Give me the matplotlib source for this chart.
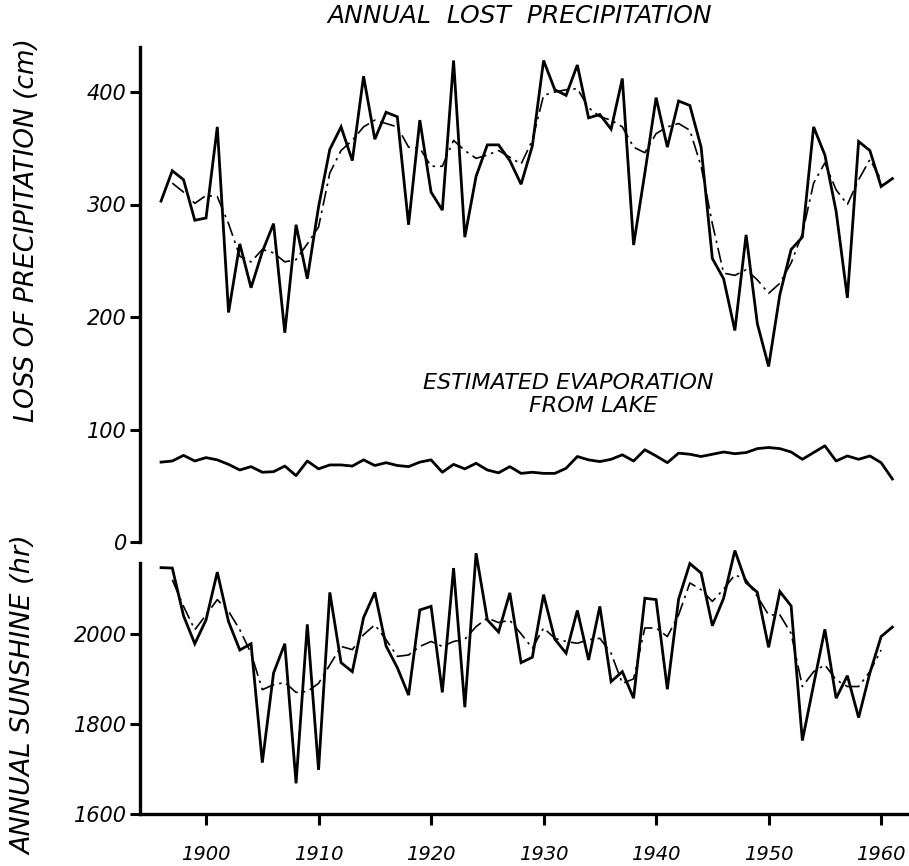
import numpy as np
import matplotlib
matplotlib.use('Agg')
import matplotlib.pyplot as plt

# data
years = np.arange(1896, 1962)
smooth_years = np.arange(1897, 1961)

lost = [303, 330, 322, 286,                                      # 1896-1899
        288, 369, 204, 265, 226, 258, 283, 186, 282, 234,        # 1900s
        298, 349, 369, 339, 414, 358, 382, 378, 282, 375,        # 1910s
        311, 295, 428, 271, 325, 353, 353, 339, 318, 352,        # 1920s
        428, 402, 397, 424, 377, 380, 367, 412, 264, 328,        # 1930s
        395, 351, 392, 388, 351, 252, 234, 188, 273, 194,        # 1940s
        156, 220, 260, 271, 369, 344, 294, 217, 356, 348,        # 1950s
        316, 323]                                                # 1960-1961

lost_smooth = [319, 311, 301,
               308, 307, 283, 254, 249, 260, 257, 249, 251, 265,
               280, 328, 348, 357, 369, 375, 372, 369, 351, 350,
               334, 334, 357, 348, 341, 344, 348, 342, 336, 357,
               397, 400, 402, 403, 386, 378, 375, 369, 351, 346,
               363, 369, 372, 366, 334, 283, 239, 237, 242, 233,
               221, 230, 248, 274, 319, 337, 313, 300, 322, 340,
               322]

evap = [71, 72, 77, 72,
        75, 73, 69, 64, 67, 62, 62.5, 67.5, 59, 72,
        65, 68.5, 68.5, 67.5, 73, 68, 70.5, 68, 67, 71,
        73, 62, 69, 65, 70, 64, 61.5, 67, 61, 62,
        61, 61, 65.5, 76, 73, 71.5, 73.5, 77.5, 72, 82,
        76.5, 70.5, 79, 78, 76, 78, 80, 78.5, 79.5, 83,
        84, 83, 80, 73.5, 79.5, 85.5, 72, 76.5, 73.5, 76.5,
        70.5, 56]

sunshine = [2147, 2146, 2040, 1978,
            2031, 2137, 2027, 1964, 1978, 1714, 1913, 1978, 1668, 2021,
            1698, 2092, 1936, 1916, 2036, 2092, 1973, 1925, 1864, 2053,
            2061, 1870, 2146, 1837, 2179, 2031, 2004, 2091, 1936, 1948,
            2087, 1988, 1957, 2052, 1942, 2061, 1894, 1916, 1857, 2079,
            2076, 1877, 2077, 2156, 2135, 2018, 2079, 2185, 2114, 2092,
            1970, 2094, 2062, 1763, 1887, 2010, 1857, 1907, 1814, 1913,
            1994, 2015]

sun_smooth = [2120, 2061, 2009,
              2042, 2076, 2050, 2009, 1957, 1876, 1887, 1892, 1870, 1872,
              1890, 1931, 1972, 1965, 1998, 2020, 1987, 1950, 1953, 1972,
              1983, 1972, 1983, 1988, 2016, 2035, 2025, 2030, 2000, 1968,
              2013, 1990, 1983, 1979, 1987, 1990, 1957, 1890, 1900, 2013,
              2013, 1994, 2042, 2113, 2098, 2072, 2099, 2131, 2120, 2083,
              2042, 2042, 2001, 1883, 1916, 1931, 1898, 1883, 1883, 1916,
              1964]

top_ticks = [0, 100, 200, 300, 400]
bot_ticks = [1600, 1800, 2000]
x_ticks = [1900, 1910, 1920, 1930, 1940, 1950, 1960]

W, H = 909, 866
fig = plt.figure(figsize=(W / 100, H / 100), dpi=100)
fig.patch.set_facecolor('white')

txt = dict(fontstyle='italic', color='black', family='DejaVu Sans')
dashdot = (0, (9, 3, 1.5, 3))

ax1 = fig.add_axes([140 / W, (H - 542) / H, 767 / W, 495 / H])
ax2 = fig.add_axes([140 / W, (H - 814) / H, 767 / W, 268 / H])

for ax in (ax1, ax2):
    ax.set_xlim(1894.13, 1962.3)
    for s in ('top', 'right'):
        ax.spines[s].set_visible(False)
    ax.spines['left'].set_linewidth(2.4)
    ax.spines['bottom'].set_linewidth(2.4)
    ax.tick_params(axis='y', direction='out', length=7.5, width=2.2, pad=2)
    ax.tick_params(axis='x', direction='out', length=8, width=2.2, pad=14)

# top panel
ax1.plot(years, lost, color='black', lw=2.0, solid_joinstyle='miter')
ax1.plot(smooth_years, lost_smooth, color='black', lw=1.2, linestyle=dashdot)
ax1.plot(years, evap, color='black', lw=2.0)
ax1.set_ylim(0, 440)
ax1.spines['bottom'].set_visible(False)
ax1.set_xticks([])
ax1.set_yticks(top_ticks)
ax1.set_yticklabels([str(t) for t in top_ticks], fontsize=15, **txt)

# bottom panel
ax2.plot(years, sunshine, color='black', lw=2.0, solid_joinstyle='miter')
ax2.plot(smooth_years, sun_smooth, color='black', lw=1.2, linestyle=dashdot)
ax2.set_ylim(1600, 2195)
ax2.spines['left'].set_bounds(1600, 2158)
ax2.set_yticks(bot_ticks)
ax2.set_yticklabels([str(t) for t in bot_ticks], fontsize=15, **txt)
ax2.set_xticks(x_ticks)
ax2.set_xticklabels([str(t) for t in x_ticks], fontsize=14, **txt)

# labels
fig.text(520 / W, 1 - 16 / H, 'ANNUAL  LOST  PRECIPITATION', ha='center',
         va='center', fontsize=18, **txt)
fig.text(568 / W, 1 - 383 / H, 'ESTIMATED EVAPORATION', ha='center',
         va='center', fontsize=16, **txt)
fig.text(593 / W, 1 - 406 / H, 'FROM LAKE', ha='center', va='center',
         fontsize=16, **txt)
fig.text(27 / W, 1 - 230 / H, 'LOSS OF PRECIPITATION (cm)', rotation=90,
         ha='center', va='center', fontsize=19, **txt)
fig.text(24 / W, 1 - 695 / H, 'ANNUAL SUNSHINE (hr)', rotation=90,
         ha='center', va='center', fontsize=19.5, **txt)

fig.savefig('out.png', dpi=100, facecolor='white')
